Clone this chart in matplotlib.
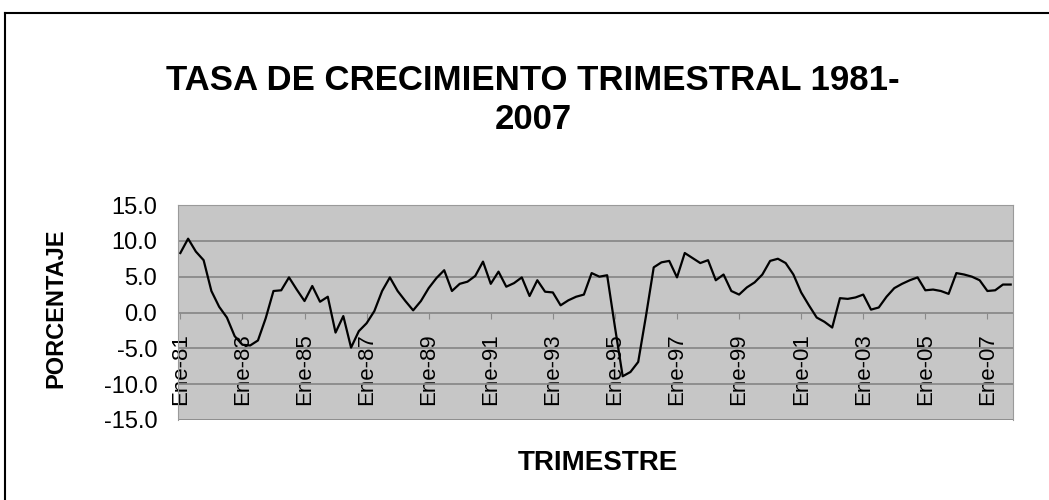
import matplotlib.pyplot as plt
from matplotlib.lines import Line2D

# tasa de crecimiento trimestral (%), Ene-81 ... Oct-07
tasa = [
    8.3, 10.3, 8.5, 7.3, 3.0, 0.8, -0.7, -3.3,
    -4.5, -4.6, -3.9, -0.8, 3.0, 3.1, 4.9, 3.2,
    1.6, 3.7, 1.5, 2.2, -2.8, -0.5, -4.9, -2.6,
    -1.5, 0.2, 3.0, 4.9, 3.0, 1.6, 0.3, 1.6,
    3.4, 4.8, 5.9, 3.0, 4.0, 4.3, 5.1, 7.1,
    4.0, 5.7, 3.6, 4.1, 4.9, 2.3, 4.5, 2.9,
    2.8, 1.0, 1.7, 2.2, 2.5, 5.5, 5.0, 5.2,
    -2.0, -8.9, -8.3, -6.9, -0.5, 6.3, 7.0, 7.2,
    4.9, 8.3, 7.6, 6.9, 7.3, 4.5, 5.3, 3.0,
    2.5, 3.5, 4.2, 5.3, 7.2, 7.5, 6.9, 5.3,
    2.8, 1.0, -0.7, -1.3, -2.1, 2.0, 1.9, 2.1,
    2.5, 0.4, 0.7, 2.2, 3.4, 4.0, 4.5, 4.9,
    3.1, 3.2, 3.0, 2.6, 5.5, 5.3, 5.0, 4.5,
    3.0, 3.1, 3.9, 3.9,
]
anios = [f"Ene-{a:02d}" for a in range(81, 100, 2)] + [f"Ene-{a:02d}" for a in range(1, 8, 2)]
posiciones = [8 * k for k in range(len(anios))]
valores_y = [-15, -10, -5, 0, 5, 10, 15]

plt.rcParams['font.family'] = ['Liberation Sans', 'DejaVu Sans']

fig = plt.figure(figsize=(10.49, 5), dpi=100)
ax = fig.add_axes([0.1697, 0.16, 0.796, 0.43])

ax.set_facecolor('#c6c6c6')
ax.plot(range(len(tasa)), tasa, color='black', lw=1.6)

ax.set_xlim(-0.3, 107.3)
ax.set_ylim(-15, 15)
ax.set_yticks(valores_y)
ax.set_yticklabels([f"{v:.1f}" for v in valores_y], fontsize=17)
ax.yaxis.grid(True, color='#8a8a8a', lw=1.3)
ax.set_axisbelow(True)
ax.tick_params(axis='y', length=0, pad=15)

# eje de categorias cruzando en cero
ax.spines['bottom'].set_position(('data', 0))
ax.spines['bottom'].set_visible(False)
for s in ['left', 'right', 'top']:
    ax.spines[s].set_color('#9a9a9a')
ax.set_xticks(posiciones)
ax.set_xticklabels(anios, rotation=90, fontsize=16)
ax.tick_params(axis='x', length=4, color='#8a8a8a', pad=11)

fig.text(0.508, 0.800, "TASA DE CRECIMIENTO TRIMESTRAL 1981-\n2007",
         ha='center', va='center', fontsize=25, fontweight='bold', linespacing=1.25)
fig.text(0.053, 0.384, "PORCENTAJE", rotation=90, ha='center', va='center',
         fontsize=17, fontweight='bold')
fig.text(0.570, 0.074, "TRIMESTRE", ha='center', va='center',
         fontsize=20, fontweight='bold')

# marco del grafico
fig.add_artist(Line2D([5 / 1049, 1], [1 - 13 / 500, 1 - 13 / 500], color='black', lw=1.5,
                      transform=fig.transFigure))
fig.add_artist(Line2D([5 / 1049, 5 / 1049], [0, 1 - 13 / 500], color='black', lw=1.5,
                      transform=fig.transFigure))

fig.savefig("out.png", dpi=100)
